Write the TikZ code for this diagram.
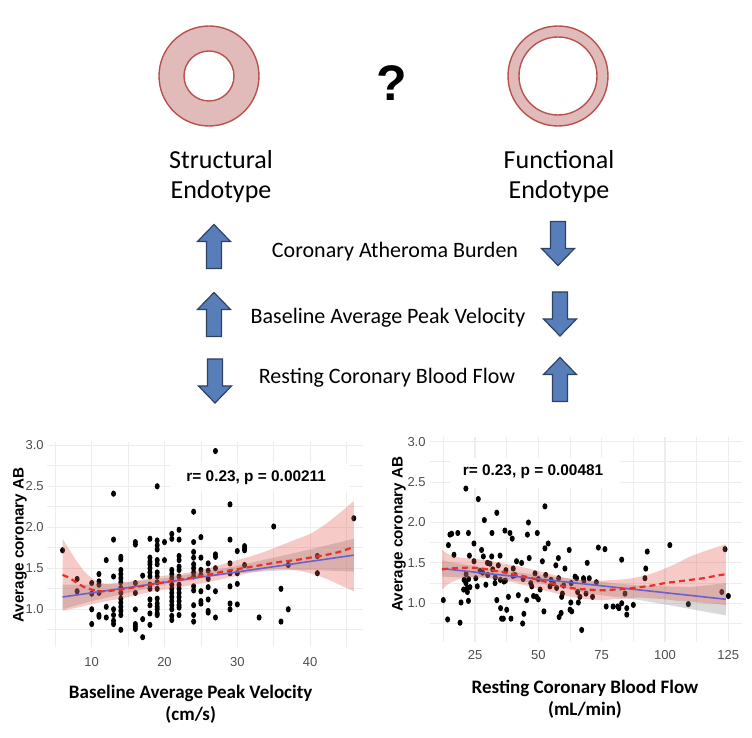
\documentclass[tikz,border=0pt]{standalone}
\usepackage{fontspec}
\setmainfont{Carlito}
\newfontfamily\arialfont{Liberation Sans}
\usepackage{tikz}

\definecolor{vesfill}{RGB}{224,187,186}
\definecolor{vesline}{RGB}{185,82,78}
\definecolor{arrfill}{RGB}{88,126,186}
\definecolor{arrline}{RGB}{45,65,100}
\definecolor{fitblue}{RGB}{106,96,208}
\definecolor{fitred}{RGB}{232,48,40}
\definecolor{bandred}{RGB}{225,80,70}
\definecolor{gridc}{RGB}{237,237,237}
\definecolor{tickc}{RGB}{77,77,77}

\begin{document}
\begin{tikzpicture}[x=0.5pt,y=-0.5pt,
  vessel/.style={fill=vesfill,draw=vesline,line width=0.7pt,even odd rule},
  blockarr/.style={fill=arrfill,draw=arrline,line width=0.6pt},
  uparr/.pic={\filldraw[blockarr] (-7.5,22) -- (-7.5,-5) -- (-16.5,-5) -- (0,-22) -- (16.5,-5) -- (7.5,-5) -- (7.5,22) -- cycle;},
  dnarr/.pic={\filldraw[blockarr] (-7.5,-22) -- (-7.5,5) -- (-16.5,5) -- (0,22) -- (16.5,5) -- (7.5,5) -- (7.5,-22) -- cycle;},
  bigtxt/.style={font=\fontsize{13}{15}\selectfont,align=center},
  midtxt/.style={font=\fontsize{11}{13}\selectfont},
  axtitle/.style={font=\bfseries\fontsize{9.5}{11}\selectfont,align=center},
  ylab/.style={font=\arialfont\bfseries\fontsize{7.6}{9}\selectfont,rotate=90},
  stattxt/.style={font=\arialfont\bfseries\fontsize{7.7}{9}\selectfont},
  ticklab/.style={font=\arialfont\fontsize{6.5}{8}\selectfont,text=tickc,inner sep=0pt},
  gridmaj/.style={draw=gridc,line width=0.55pt},
  gridmin/.style={draw=gridc,line width=0.4pt},
  scatpt/.style={fill=black},
  ciloess/.style={fill=bandred,fill opacity=0.3},
  cilin/.style={fill=gray,fill opacity=0.3},
  linfit/.style={draw=fitblue,line width=0.8pt},
  loessfit/.style={draw=fitred,line width=1.1pt,dash pattern=on 3pt off 2pt}]

\useasboundingbox (0,0) rectangle (752,738);

% the two vessels
\filldraw[vessel] (209,76) circle[radius=50] (209,76) circle[radius=25];
\filldraw[vessel] (558,76) circle[radius=50] (558,76) circle[radius=39];
\node[font=\arialfont\bfseries\fontsize{25}{30}\selectfont] (qmark) at (392,83) {?};

\node[bigtxt] (struct) at (221,177) {Structural\\Endotype};
\node[bigtxt] (funct) at (559,177) {Functional\\Endotype};

% the three measures
\node[midtxt] (cab) at (395,252) {Coronary Atheroma Burden};
\node[midtxt] (bapv) at (388,318) {Baseline Average Peak Velocity};
\node[midtxt] (rcbf) at (387,378) {Resting Coronary Blood Flow};

\pic at (214,246.5) {uparr};
\pic at (214,314.5) {uparr};
\pic at (215,381) {dnarr};
\pic at (558,243.5) {dnarr};
\pic at (560,314) {dnarr};
\pic at (560,379.5) {uparr};

% left plot: velocity vs AB
\begin{scope}[shift={(18.9,691.3)},x=3.64pt,y=41pt]
\foreach \g in {0.75,1.25,...,2.75} \draw[gridmin] (3.82,\g) -- (47.27,\g);
\foreach \g in {1.0,1.5,...,3.0} \draw[gridmaj] (3.82,\g) -- (47.27,\g);
\foreach \g in {5,15,...,45} \draw[gridmin] (\g,0.544) -- (\g,3.044);
\foreach \g in {10,20,...,40} \draw[gridmaj] (\g,0.544) -- (\g,3.044);
\foreach \t [count=\i] in {1.0,1.5,2.0,2.5,3.0} \node[ticklab,anchor=east] (lyt\i) at (3.45,\t) {\t};
\foreach \t [count=\i] in {10,20,30,40} \node[ticklab] (lxt\i) at (\t,0.36) {\t};
\fill[white] (20.8,2.44) rectangle (45.5,2.79);
\foreach \u/\w in {6/1.72,8/1.37,8/1.22,10/1.32,10/1.19,10/1.0,10/0.82,
  11/1.43,11/1.34,11/1.3,11/1.2,11/0.93,11/0.91,12/1.6,12/1.03,12/0.9,
  13/2.41,13/1.85,13/1.4,13/1.0,13/0.93,13/0.86,13/0.82,
  14/1.64,14/1.61,14/1.48,14/1.43,14/1.38,14/1.33,14/1.26,14/1.2,14/1.13,14/1.08,14/1.03,14/0.98,14/0.93,14/0.75,
  16/1.82,16/1.79,16/1.32,16/1.2,16/1.0,16/0.82,16/0.79,16/0.76,17/1.41,17/0.88,17/0.66,
  18/1.86,18/1.63,18/1.58,18/1.55,18/1.5,18/1.45,18/1.4,18/1.3,18/1.25,18/1.12,18/1.05,18/0.95,18/0.81,
  19/2.5,19/1.84,19/1.78,19/1.73,19/1.6,19/1.55,19/1.45,19/1.4,19/1.33,19/1.25,19/1.13,19/1.07,19/1.03,19/1.0,19/0.95,19/0.93,
  20/1.82,20/1.6,
  21/1.92,21/1.86,21/1.48,21/1.43,21/1.38,21/1.3,21/1.25,21/1.2,21/1.15,21/1.1,21/1.05,21/1.0,21/0.92,21/0.87,
  22/1.97,22/1.85,22/1.65,22/1.6,22/1.52,22/1.48,22/1.4,22/1.3,22/1.25,22/1.2,22/1.15,22/1.1,22/1.05,22/1.02,22/0.93,
  24/2.19,24/1.82,24/1.7,24/1.63,24/1.55,24/1.5,24/1.45,24/1.4,24/1.28,24/1.23,24/1.05,24/0.93,24/0.85,
  25/1.88,25/1.63,25/1.48,25/1.42,25/1.22,25/1.1,25/1.07,
  26/1.56,26/1.47,26/1.37,26/1.27,26/1.12,26/0.98,26/0.96,
  27/2.93,27/1.67,27/1.64,27/1.5,27/1.22,27/0.9,
  29/2.28,29/1.85,29/1.56,29/1.44,29/1.28,29/1.07,29/1.0,
  30/1.71,30/1.44,30/1.31,30/1.06,31/1.77,31/1.74,31/1.72,31/1.54,
  33/0.9,35/2.01,36/1.25,36/0.85,37/1.54,37/1.0,41/1.65,41/1.44,46/2.11}
  \fill[scatpt] (\u,\w) ellipse[x radius=1.25pt,y radius=1.55pt];
\fill[cilin] (6,1.3) -- (10,1.3) -- (15,1.33) -- (20,1.38) -- (25,1.45) -- (30,1.53) -- (35,1.63) -- (40,1.73) -- (46,1.86)
  -- (46,1.46) -- (40,1.48) -- (35,1.47) -- (30,1.44) -- (25,1.38) -- (20,1.3) -- (15,1.2) -- (10,1.1) -- (6,1.0) -- cycle;
\fill[ciloess] plot[smooth,tension=0.4] coordinates {(6,1.86) (7,1.72) (8,1.58) (9,1.46) (10,1.38) (11,1.33) (12,1.31) (13,1.31) (14,1.32)
  (16,1.35) (18,1.38) (20,1.41) (22,1.43) (24,1.46) (26,1.5) (28,1.55) (30,1.6) (32,1.65) (34,1.71) (36,1.78) (38,1.85) (40,1.92)
  (42,2.03) (44,2.17) (46,2.32)}
  -- plot[smooth,tension=0.4] coordinates {(46,1.22) (44,1.3) (42,1.38) (40,1.44) (38,1.48) (36,1.49) (34,1.48) (32,1.45) (30,1.41)
  (28,1.37) (26,1.33) (24,1.3) (22,1.27) (20,1.24) (18,1.21) (16,1.17) (14,1.13) (12,1.1) (10,1.06) (8,1.02) (6,0.98)} -- cycle;
\draw[linfit] (6,1.15) -- (46,1.66);
\draw[loessfit] plot[smooth] coordinates {(6,1.42) (7,1.38) (8,1.32) (9,1.27) (10,1.24) (11,1.22) (12,1.22) (13,1.23) (14,1.24)
  (16,1.27) (18,1.3) (20,1.33) (22,1.36) (24,1.39) (26,1.42) (28,1.46) (30,1.49) (32,1.52) (34,1.55) (36,1.58) (38,1.6)
  (40,1.63) (42,1.66) (44,1.7) (46,1.76)};
\node[stattxt] (lstat) at (32.6,2.6) {r= 0.23, p = 0.00211};
\end{scope}
\node[ylab] (lylab) at (20,545) {Average coronary AB};
\node[axtitle] (lxlab) at (190.7,704) {Baseline Average Peak Velocity\\(cm/s)};

% right plot: flow vs AB
\begin{scope}[shift={(411.67,684.1)},x=1.2667pt,y=40.4pt]
\foreach \g in {0.75,1.25,...,2.75} \draw[gridmin] (7.23,\g) -- (130.3,\g);
\foreach \g in {1.0,1.5,...,3.0} \draw[gridmaj] (7.23,\g) -- (130.3,\g);
\foreach \g in {12.5,37.5,...,112.5} \draw[gridmin] (\g,0.525) -- (\g,3.06);
\foreach \g in {25,50,...,125} \draw[gridmaj] (\g,0.525) -- (\g,3.06);
\foreach \t [count=\i] in {1.0,1.5,2.0,2.5,3.0} \node[ticklab,anchor=east] (ryt\i) at (5.65,\t) {\t};
\foreach \t [count=\i] in {25,50,75,100,125} \node[ticklab] (rxt\i) at (\t,0.36) {\t};
\fill[white] (15.1,2.43) rectangle (82.2,2.8);
\foreach \u/\w in {12.5/1.04,14.2/0.80,14.5/1.72,15.1/1.85,15.8/1.86,16.7/1.60,18.2/1.87,19.1/0.76,19.5/1.01,
  20.7/1.29,21.4/1.25,21.4/2.42,22/1.19,22/1.14,22.4/1.03,22.4/1.87,22.8/1.59,24.6/1.52,24.6/1.74,25.3/1.31,
  25.9/1.21,26.3/2.29,27.6/1.66,28.3/1.58,28.7/2.03,29.3/1.23,29.9/1.5,30.9/1.49,31.6/1.58,31.7/1.87,32.9/1.25,
  33.6/2.12,33.6/1.04,34.2/1.47,34.9/1.59,35.1/0.94,35.5/0.81,36.2/0.81,36.4/1.27,36.8/1.90,37.2/1.41,37.5/0.92,
  38.2/1.08,38.8/1.87,39.2/0.81,39.7/1.8,40.1/1.43,40.8/1.35,41.4/1.52,42.1/1.1,43.4/1.5,43.8/0.75,44.3/0.87,
  45.4/1.04,45.7/1.85,46.1/2.0,46.4/1.56,47.4/1.21,48.1/1.09,48.7/1.37,49.3/1.08,49.6/1.87,50/1.05,50.7/1.17,
  51.6/1.52,52.2/0.9,52.6/2.2,52.6/1.68,52.9/1.35,53.9/1.74,54.6/1.21,55.9/1.25,56.9/1.47,57.2/1.19,57.9/1.56,
  58.2/0.83,59/0.88,59.2/1.08,59.5/1.12,60.5/1.43,62.2/1.66,62.5/0.92,62.8/1.01,63.2/0.9,64.5/1.33,65.1/1.31,
  65.5/1.14,65.8/1.01,66.4/1.08,67.1/0.67,67.8/1.31,68.8/1.12,69.3/1.5,70.1/1.31,71.4/1.08,72.9/1.26,73.7/1.69,
  76.3/1.67,76.8/0.96,79.5/0.96,81.3/0.96,81.8/0.94,82.9/1.54,82.9/1.0,84.2/1.12,84.9/0.86,84.9/0.94,87.5/0.98,
  92.1/1.31,92.4/1.43,93/1.64,101.9/1.72,109.2/0.99,122.4/1.14,123.7/1.67,125/1.09,
  21.5/1.36,22.5/1.3,23/1.2,20.5/1.17,27/1.4,28/1.38,30/1.35,32/1.42,33/1.32,35/1.29,37/1.28,40/1.34,
  44/1.3,47/1.25,50/1.3,55/1.29,58/1.31,60/1.22,63/1.25,68/1.28}
  \fill[scatpt] (\u,\w) ellipse[x radius=1.25pt,y radius=1.55pt];
\fill[cilin] (12,1.53) -- (30,1.43) -- (50,1.35) -- (70,1.28) -- (90,1.22) -- (110,1.2) -- (124,1.25)
  -- (124,0.85) -- (110,0.93) -- (90,1.04) -- (70,1.12) -- (50,1.25) -- (30,1.31) -- (12,1.33) -- cycle;
\fill[ciloess] plot[smooth,tension=0.4] coordinates {(12,1.66) (15,1.6) (20,1.56) (25,1.55) (30,1.53) (35,1.5) (40,1.47) (45,1.44)
  (50,1.4) (55,1.36) (60,1.32) (65,1.29) (70,1.28) (75,1.28) (80,1.29) (85,1.3) (90,1.33) (95,1.37) (100,1.43) (105,1.5)
  (110,1.58) (117,1.66) (124,1.73)}
  -- plot[smooth,tension=0.4] coordinates {(124,0.98) (117,1.0) (110,1.02) (105,1.03) (100,1.05) (95,1.06) (90,1.07) (85,1.06)
  (80,1.05) (75,1.04) (70,1.05) (65,1.07) (60,1.1) (55,1.14) (50,1.18) (45,1.22) (40,1.26) (35,1.29) (30,1.32) (25,1.33)
  (20,1.31) (15,1.25) (12,1.17)} -- cycle;
\draw[linfit] (12,1.43) -- (124,1.05);
\draw[loessfit] plot[smooth] coordinates {(12,1.42) (15,1.43) (20,1.44) (25,1.44) (30,1.42) (35,1.39) (40,1.36) (45,1.33)
  (50,1.29) (55,1.25) (60,1.21) (65,1.18) (70,1.17) (75,1.16) (80,1.17) (85,1.18) (90,1.2) (95,1.22) (100,1.25) (105,1.27)
  (110,1.29) (115,1.31) (120,1.34) (124,1.36)};
\node[stattxt] (rstat) at (47.9,2.63) {r= 0.23, p = 0.00481};
\end{scope}
\node[ylab] (rylab) at (399,534) {Average coronary AB};
\node[axtitle] (rxlab) at (585,699) {Resting Coronary Blood Flow\\(mL/min)};
\end{tikzpicture}
\end{document}
